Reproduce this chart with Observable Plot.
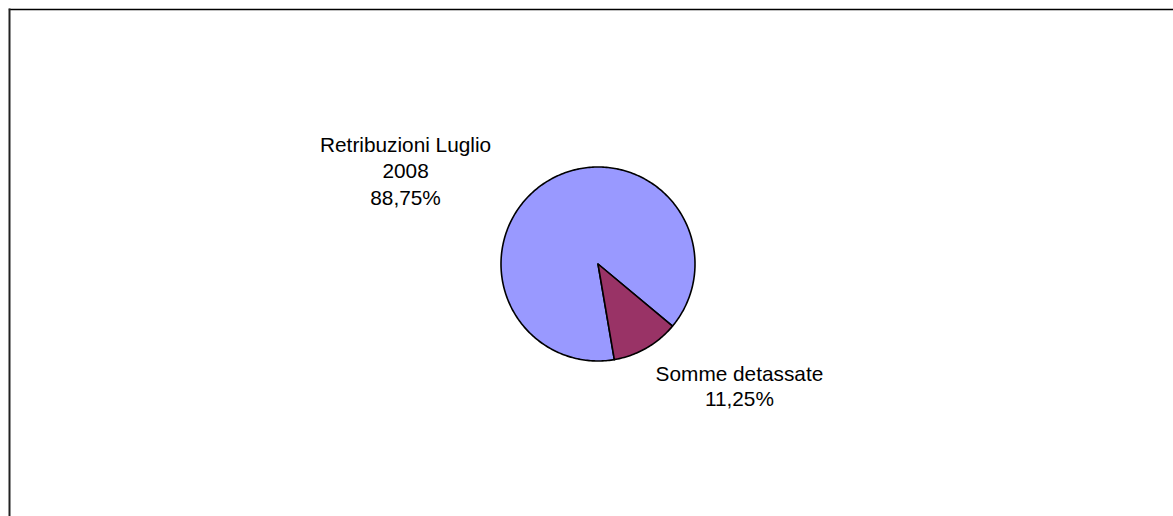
<!DOCTYPE html>
<html><head><meta charset="utf-8">
<script src="https://cdn.jsdelivr.net/npm/d3@7"></script>
<script src="https://cdn.jsdelivr.net/npm/@observablehq/plot@0.6"></script>
<style>html,body{margin:0;padding:0;background:#fff;overflow:hidden}</style>
</head><body><div id="chart"></div>
<script>
const categories = ["Retribuzioni Luglio\n2008", "Somme detassate"];
const values = [88.75, 11.25];
const valueLabels = ["88,75%", "11,25%"];
const colors = ["#9999FF", "#993366"];

const startAngle = 170.3; // degrees clockwise from 12 o'clock
const total = d3.sum(values);
const slices = [];
const labels = [];
let acc = startAngle;
categories.forEach((c, i) => {
  const a0 = acc, a1 = acc + values[i] / total * 360;
  acc = a1;
  slices.push({name: c, x: 0, y: 0});
  const n = Math.max(2, Math.ceil(a1 - a0));
  for (let k = 0; k <= n; k++) {
    const a = (a0 + (a1 - a0) * k / n) * Math.PI / 180;
    slices.push({name: c, x: Math.sin(a), y: Math.cos(a)});
  }
  slices.push({name: c, x: 0, y: 0});
  const m = (a0 + a1) / 2 * Math.PI / 180;
  labels.push({name: c, text: c + "\n" + valueLabels[i], x: Math.sin(m), y: Math.cos(m)});
});

const cx = 597.5, cy = 263.5, r = 97;
const chart = Plot.plot({
  width: 1173, height: 516,
  marginTop: 9, marginLeft: 9, marginRight: 0, marginBottom: 0,
  x: {domain: [-1, 1], range: [cx - r, cx + r], axis: null},
  y: {domain: [-1, 1], range: [cy + r, cy - r], axis: null},
  color: {domain: categories, range: colors},
  style: {fontFamily: "Arial, 'Liberation Sans', sans-serif", background: "#fff"},
  marks: [
    Plot.frame({anchor: "top", stroke: "#000", strokeWidth: 1.3}),
    Plot.frame({anchor: "left", stroke: "#222", strokeWidth: 2}),
    Plot.line(slices, {x: "x", y: "y", z: "name", fill: "name", stroke: "#000", strokeWidth: 1.6, strokeLinejoin: "round"}),
    Plot.text(labels.filter((d, i) => i === 0), {x: "x", y: "y", text: "text", dx: -144, dy: -10, fontSize: 20.8, lineHeight: 1.26, fill: "#000"}),
    Plot.text(labels.filter((d, i) => i === 1), {x: "x", y: "y", text: "text", dx: 93, dy: 37, fontSize: 20.8, lineHeight: 1.21, fill: "#000"})
  ]
});
document.getElementById("chart").append(chart);
</script>
</body></html>
